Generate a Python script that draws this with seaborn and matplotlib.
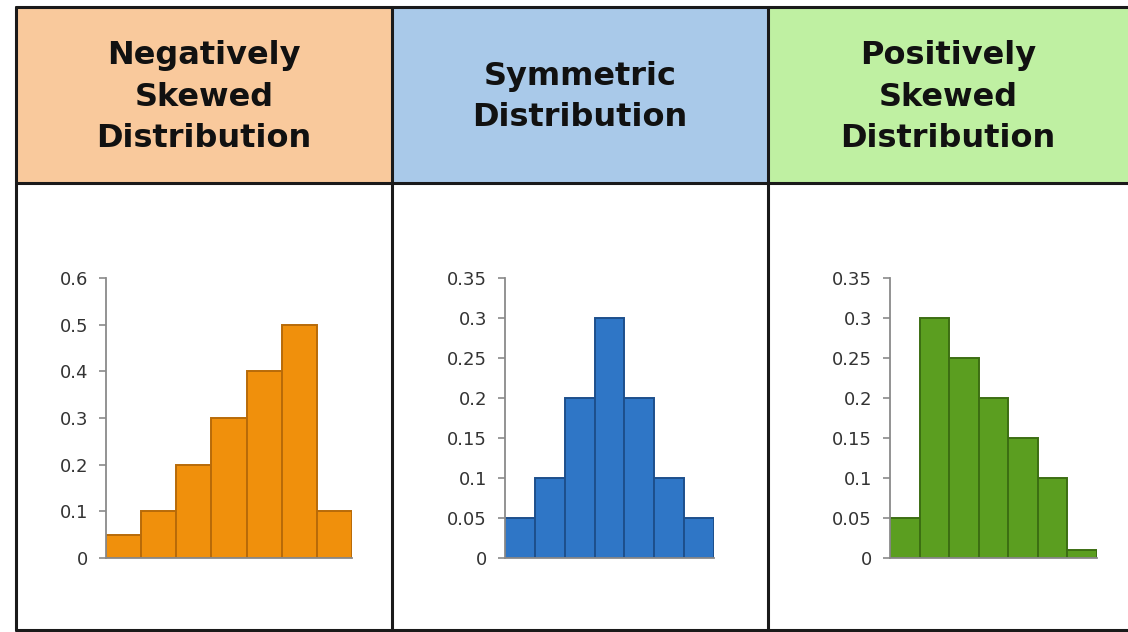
import matplotlib
matplotlib.use("Agg")
import matplotlib.pyplot as plt
import seaborn as sns
import pandas as pd
from matplotlib.patches import Rectangle
from matplotlib.lines import Line2D

# ---- data ----
bins = [1, 2, 3, 4, 5, 6, 7]
neg_values = [0.05, 0.1, 0.2, 0.3, 0.4, 0.5, 0.1]
sym_values = [0.05, 0.1, 0.2, 0.3, 0.2, 0.1, 0.05]
pos_values = [0.05, 0.3, 0.25, 0.2, 0.15, 0.1, 0.01]
titles = ["Negatively\nSkewed\nDistribution", "Symmetric\nDistribution", "Positively\nSkewed\nDistribution"]
neg_ticks = [0, 0.1, 0.2, 0.3, 0.4, 0.5, 0.6]
neg_ticklabels = ["0", "0.1", "0.2", "0.3", "0.4", "0.5", "0.6"]
sym_ticks = [0, 0.05, 0.1, 0.15, 0.2, 0.25, 0.3, 0.35]
sym_ticklabels = ["0", "0.05", "0.1", "0.15", "0.2", "0.25", "0.3", "0.35"]

sns.set_style("white")
plt.rcParams['font.family'] = ['DejaVu Sans']

fig = plt.figure(figsize=(11.28, 6.32), dpi=100)

W, H = 1128, 632
def fx(px): return px / W
def fy(py): return 1 - py / H

# header boxes
header_colors = ["#f9c99c", "#a9c9e9", "#bff0a2"]
col_edges = [16, 392, 768, 1128]
for i in range(3):
    x0, x1 = col_edges[i], col_edges[i + 1]
    fig.patches.append(Rectangle((fx(x0), fy(183)), fx(x1 - x0), fy(7) - fy(183),
                                 transform=fig.transFigure, facecolor=header_colors[i],
                                 edgecolor="none", zorder=0))
    fig.text(fx((x0 + x1) / 2), fy(97), titles[i], ha="center", va="center",
             fontsize=23, fontweight="bold", color="#111111", linespacing=1.45)

# frame lines
lw = 2.2
for x in [16, 392, 768]:
    fig.add_artist(Line2D([fx(x), fx(x)], [fy(630), fy(7)], transform=fig.transFigure,
                          color="#1a1a1a", lw=lw))
for y in [7, 183, 630]:
    fig.add_artist(Line2D([fx(16), fx(1128)], [fy(y), fy(y)], transform=fig.transFigure,
                          color="#1a1a1a", lw=lw))

panels = [
    (neg_values, "#f0900c", "#b86a08", (106, 352), 0.6, neg_ticks, neg_ticklabels),
    (sym_values, "#2f76c6", "#1d4f8c", (505, 714), 0.35, sym_ticks, sym_ticklabels),
    (pos_values, "#5b9e20", "#3c6e12", (890, 1097), 0.35, sym_ticks, sym_ticklabels),
]
y0_px, ytop_px = 558, 278
for vals, color, edge, (xl, xr), ymax, ticks, labels in panels:
    ax = fig.add_axes([fx(xl), fy(y0_px), fx(xr - xl), fy(ytop_px) - fy(y0_px)])
    df = pd.DataFrame({"bin": bins, "value": vals})
    sns.barplot(data=df, x="bin", y="value", ax=ax, color=color, width=1.0,
                edgecolor=edge, linewidth=1.4, saturation=1)
    ax.set_xlim(-0.5, 6.5)
    ax.set_ylim(0, ymax)
    ax.set_yticks(ticks)
    ax.set_yticklabels(labels)
    ax.set_xticks([])
    ax.set_xlabel("")
    ax.set_ylabel("")
    ax.patch.set_alpha(0)
    for s in ["top", "right"]:
        ax.spines[s].set_visible(False)
    for s in ["left", "bottom"]:
        ax.spines[s].set_color("#8a8a8a")
        ax.spines[s].set_linewidth(1.3)
    ax.tick_params(axis="y", which="both", left=True, length=5, width=1.2,
                   color="#8a8a8a", labelsize=13, labelcolor="#333333", pad=8)

fig.savefig("out.png", dpi=100)
